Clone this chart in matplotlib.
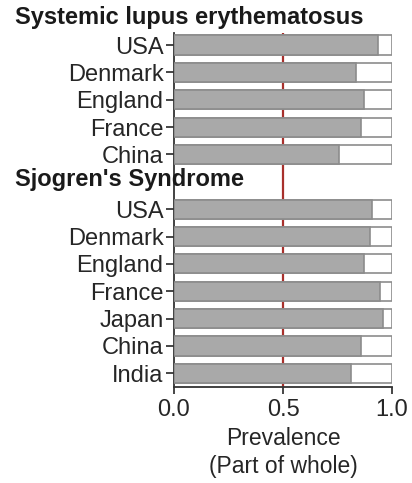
import matplotlib
matplotlib.use('Agg')
import matplotlib.pyplot as plt
import matplotlib.transforms as mtransforms

plt.rcParams['font.family'] = ['Liberation Sans', 'DejaVu Sans']

# data
sle_countries = ['USA', 'Denmark', 'England', 'France', 'China']
sle_values = [0.935, 0.835, 0.872, 0.857, 0.757]
ss_countries = ['USA', 'Denmark', 'England', 'France', 'Japan', 'China', 'India']
ss_values = [0.91, 0.90, 0.872, 0.945, 0.957, 0.857, 0.81]
xticks = [0.0, 0.5, 1.0]
xticklabels = ['0.0', '0.5', '1.0']

txt = '#262626'
gray = '#a9a9a9'
edge = '#8c8c8c'

# one slot left empty for the second group title
sle_pos = list(range(len(sle_countries)))
ss_pos = [len(sle_countries) + 1 + i for i in range(len(ss_countries))]
pos = sle_pos + ss_pos
vals = sle_values + ss_values
labels = sle_countries + ss_countries

fig = plt.figure(figsize=(4.12, 4.83), dpi=100)
ax = fig.add_axes([174/412, 1 - 387/483, 218/412, 354/483])

ax.axvline(0.5, color='#a8302c', lw=1.6, zorder=1)
ax.barh(pos, [1.0]*len(pos), height=0.7, color='white', edgecolor=edge, lw=1.2, zorder=2)
ax.barh(pos, vals, height=0.7, color=gray, edgecolor=edge, lw=1.2, zorder=3)

ax.set_xlim(0, 1.0)
ax.set_ylim(12.5, -0.44)
ax.set_yticks(pos)
ax.set_yticklabels(labels)
ax.set_xticks(xticks)
ax.set_xticklabels(xticklabels)
ax.tick_params(axis='both', labelsize=17, colors=txt, width=1.2, length=6, pad=1.5)
ax.tick_params(axis='x', length=5, pad=4)
for s in ['top', 'right']:
    ax.spines[s].set_visible(False)
for s in ['left', 'bottom']:
    ax.spines[s].set_linewidth(1.3)
    ax.spines[s].set_color('#333333')

ax.set_xlabel('Prevalence\n(Part of whole)', fontsize=16.5, color=txt, labelpad=4, linespacing=1.25)

trans = mtransforms.blended_transform_factory(fig.transFigure, ax.transData)
ax.text(15/412, -1, 'Systemic lupus erythematosus', transform=trans, fontsize=17,
        fontweight='bold', color='#1a1a1a', va='center', ha='left', clip_on=False)
ax.text(15/412, len(sle_countries) - 0.1, "Sjogren's Syndrome", transform=trans, fontsize=17,
        fontweight='bold', color='#1a1a1a', va='center', ha='left', clip_on=False)

fig.savefig('out.png', dpi=100)
